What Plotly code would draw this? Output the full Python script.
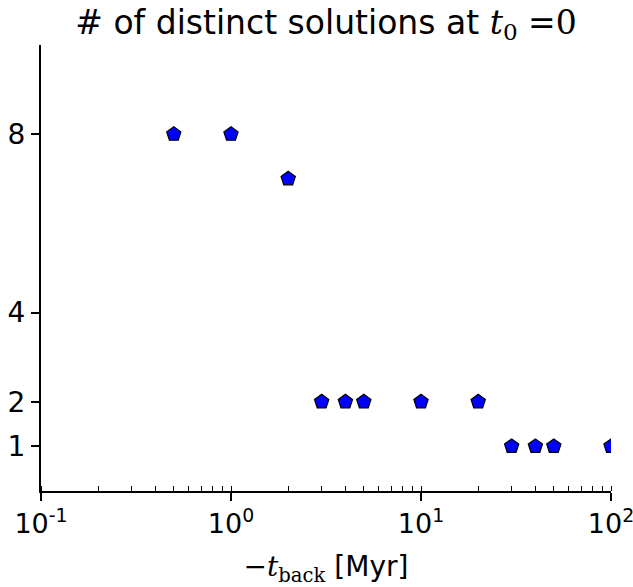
import plotly.graph_objects as go

t_back = [0.5, 1, 2, 3, 4, 5, 10, 20, 30, 40, 50, 100]
n_solutions = [8, 8, 7, 2, 2, 2, 2, 2, 1, 1, 1, 1]

x_tickvals = [0.1, 1, 10, 100]
x_ticktext = ["10<sup>-1</sup>", "10<sup>0</sup>", "10<sup>1</sup>", "10<sup>2</sup>"]
y_tickvals = [1, 2, 4, 8]

serif = "DejaVu Serif"
fig = go.Figure()
fig.add_trace(go.Scatter(
    x=t_back, y=n_solutions, mode="markers",
    marker=dict(symbol="pentagon", size=15, color="blue",
                line=dict(color="black", width=1.2)),
    showlegend=False,
))

fig.update_layout(
    width=633, height=587,
    margin=dict(l=41, r=22, t=45, b=96, autoexpand=False),
    paper_bgcolor="white", plot_bgcolor="white",
    font=dict(family="DejaVu Sans", size=28, color="black"),
    title=dict(
        text=f"# of distinct solutions at <span style='font-family:{serif}'><i>t</i><sub>0</sub> =0</span>",
        x=0.5, xref="paper", xanchor="center", y=1 - 22/587, yanchor="middle",
        font=dict(size=33),
    ),
    xaxis=dict(
        type="log", range=[-1, 2], automargin=False,
        tickvals=x_tickvals, ticktext=x_ticktext, ticklabeloverflow="allow",
        ticks="outside", ticklen=8, tickwidth=1.5, tickcolor="black",
        showline=True, linecolor="black", linewidth=2,
        showgrid=False, zeroline=False,
        minor=dict(ticks="inside", dtick="D1", ticklen=5, tickwidth=1, tickcolor="black", showgrid=False),
        title=dict(text=f"<span style='font-family:{serif}'>−<i>t</i><sub>back</sub></span> [Myr]",
                   font=dict(size=28), standoff=18),
        tickfont=dict(size=27),
    ),
    yaxis=dict(
        range=[0, 10], tickvals=y_tickvals, automargin=False,
        ticks="outside", ticklen=8, tickwidth=1.5, tickcolor="black",
        showline=True, linecolor="black", linewidth=2,
        showgrid=False, zeroline=False,
        tickfont=dict(size=28),
    ),
)

fig.write_html("out.html")
